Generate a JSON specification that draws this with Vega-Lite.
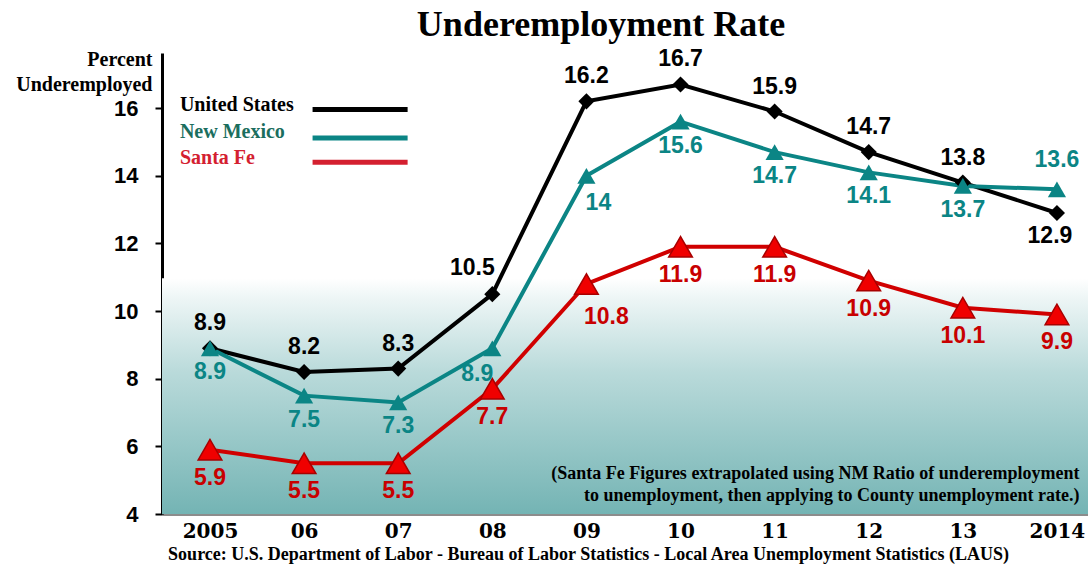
{
  "$schema": "https://vega.github.io/schema/vega-lite/v6.json",
  "width": 926,
  "height": 461,
  "padding": {"left": 162, "top": 53, "right": 0, "bottom": 53},
  "autosize": {"type": "none"},
  "background": "white",
  "title": {
    "text": "Underemployment Rate",
    "font": "Liberation Serif",
    "fontSize": 36,
    "fontWeight": "bold",
    "color": "#000000",
    "anchor": "middle",
    "baseline": "bottom",
    "offset": 0,
    "dx": -24,
    "dy": 32
  },
  "datasets": {
    "rates": [
      {"year": 2005, "series": "United States", "value": 8.9},
      {"year": 2006, "series": "United States", "value": 8.2},
      {"year": 2007, "series": "United States", "value": 8.3},
      {"year": 2008, "series": "United States", "value": 10.5},
      {"year": 2009, "series": "United States", "value": 16.2},
      {"year": 2010, "series": "United States", "value": 16.7},
      {"year": 2011, "series": "United States", "value": 15.9},
      {"year": 2012, "series": "United States", "value": 14.7},
      {"year": 2013, "series": "United States", "value": 13.8},
      {"year": 2014, "series": "United States", "value": 12.9},
      {"year": 2005, "series": "New Mexico", "value": 8.9},
      {"year": 2006, "series": "New Mexico", "value": 7.5},
      {"year": 2007, "series": "New Mexico", "value": 7.3},
      {"year": 2008, "series": "New Mexico", "value": 8.9},
      {"year": 2009, "series": "New Mexico", "value": 14},
      {"year": 2010, "series": "New Mexico", "value": 15.6},
      {"year": 2011, "series": "New Mexico", "value": 14.7},
      {"year": 2012, "series": "New Mexico", "value": 14.1},
      {"year": 2013, "series": "New Mexico", "value": 13.7},
      {"year": 2014, "series": "New Mexico", "value": 13.6},
      {"year": 2005, "series": "Santa Fe", "value": 5.9},
      {"year": 2006, "series": "Santa Fe", "value": 5.5},
      {"year": 2007, "series": "Santa Fe", "value": 5.5},
      {"year": 2008, "series": "Santa Fe", "value": 7.7},
      {"year": 2009, "series": "Santa Fe", "value": 10.8},
      {"year": 2010, "series": "Santa Fe", "value": 11.9},
      {"year": 2011, "series": "Santa Fe", "value": 11.9},
      {"year": 2012, "series": "Santa Fe", "value": 10.9},
      {"year": 2013, "series": "Santa Fe", "value": 10.1},
      {"year": 2014, "series": "Santa Fe", "value": 9.9}
    ],
    "legend": [
      {"series": "United States"},
      {"series": "New Mexico"},
      {"series": "Santa Fe"}
    ],
    "note": [
      {"note": "Santa Fe"}
    ]
  },
  "layer": [
    {
      "data": {"name": "note"},
      "mark": {
        "type": "rect",
        "fill": {
          "gradient": "linear",
          "x1": 0, "y1": 0, "x2": 0, "y2": 1,
          "stops": [
            {"offset": 0, "color": "#ffffff"},
            {"offset": 0.08, "color": "#eef6f6"},
            {"offset": 0.4, "color": "#b9dada"},
            {"offset": 1, "color": "#74b4b4"}
          ]
        }
      },
      "encoding": {
        "x": {"datum": 2004.49, "type": "quantitative"},
        "x2": {"datum": 2014.33},
        "y": {"datum": 10.97, "type": "quantitative"},
        "y2": {"datum": 4}
      }
    },
    {
      "data": {"name": "rates"},
      "mark": {"type": "line", "strokeWidth": 4},
      "encoding": {
        "x": {
          "field": "year",
          "type": "quantitative",
          "scale": {"domain": [2004.49, 2014.33], "nice": false, "zero": false},
          "axis": {
            "values": [2005, 2006, 2007, 2008, 2009, 2010, 2011, 2012, 2013, 2014],
            "format": "d",
            "labelExpr": "(datum.value == 2005 || datum.value == 2014) ? ('' + datum.value) : substring('' + datum.value, 2)",
            "ticks": false,
            "grid": false,
            "domainColor": "#8c8c8c",
            "domainWidth": 3,
            "labelFont": "DejaVu Serif",
            "labelFontWeight": "bold",
            "labelFontSize": 20,
            "labelColor": "#000000",
            "labelPadding": 7,
            "labelFlush": false,
            "labelOverlap": false,
            "title": "Source:  U.S. Department of Labor - Bureau of Labor Statistics - Local Area Unemployment Statistics (LAUS)",
            "titleFont": "Liberation Serif",
            "titleFontWeight": "bold",
            "titleFontSize": 18,
            "titleColor": "#000000",
            "titleX": 426,
            "titleAnchor": "middle",
            "titleAlign": "center",
            "titlePadding": 4
          }
        },
        "y": {
          "field": "value",
          "type": "quantitative",
          "scale": {"domain": [4, 17.63], "nice": false, "zero": false},
          "axis": {
            "values": [4, 6, 8, 10, 12, 14, 16],
            "grid": false,
            "domainColor": "#000000",
            "domainWidth": 3,
            "tickColor": "#000000",
            "tickWidth": 2,
            "tickSize": 7,
            "labelFont": "Liberation Sans",
            "labelFontWeight": "bold",
            "labelFontSize": 22,
            "labelColor": "#000000",
            "labelPadding": 17,
            "labelFlush": false,
            "title": ["Percent", "Underemployed"],
            "titleFont": "Liberation Serif",
            "titleFontWeight": "bold",
            "titleFontSize": 20,
            "titleColor": "#000000",
            "titleAngle": 0,
            "titleAlign": "right",
            "titleBaseline": "alphabetic",
            "titleLineHeight": 25,
            "titleX": -10,
            "titleY": 12
          }
        },
        "color": {
          "field": "series",
          "type": "nominal",
          "scale": {"domain": ["Santa Fe", "New Mexico", "United States"], "range": ["#d00000", "#0b8585", "#000000"]},
          "legend": null
        }
      }
    },
    {
      "data": {"name": "rates"},
      "transform": [{"filter": "datum.series == 'United States'"}],
      "mark": {"type": "point", "shape": "diamond", "filled": true, "size": 260, "fill": "#000000", "opacity": 1},
      "encoding": {"x": {"field": "year", "type": "quantitative"}, "y": {"field": "value", "type": "quantitative"}}
    },
    {
      "data": {"name": "rates"},
      "transform": [{"filter": "datum.series == 'New Mexico'"}],
      "mark": {"type": "point", "shape": "triangle-up", "filled": true, "size": 330, "fill": "#0b8585", "opacity": 1},
      "encoding": {"x": {"field": "year", "type": "quantitative"}, "y": {"field": "value", "type": "quantitative"}}
    },
    {
      "data": {"name": "rates"},
      "transform": [{"filter": "datum.series == 'Santa Fe'"}],
      "mark": {"type": "point", "shape": "triangle-up", "filled": true, "size": 560, "fill": "#f00000", "stroke": "#a80000", "strokeWidth": 1.5, "opacity": 1},
      "encoding": {"x": {"field": "year", "type": "quantitative"}, "y": {"field": "value", "type": "quantitative"}}
    },
    {
      "data": {"name": "rates"},
      "transform": [{"filter": "datum.series == 'United States' && datum.year != 2008 && datum.year != 2014"}],
      "mark": {"type": "text", "font": "Liberation Sans", "fontWeight": "bold", "fontSize": 23, "color": "#000000", "baseline": "middle", "dy": -25},
      "encoding": {"x": {"field": "year", "type": "quantitative"}, "y": {"field": "value", "type": "quantitative"}, "text": {"field": "value", "type": "quantitative", "format": ".1~f"}}
    },
    {
      "data": {"name": "rates"},
      "transform": [{"filter": "datum.series == 'United States' && datum.year == 2008"}],
      "mark": {"type": "text", "font": "Liberation Sans", "fontWeight": "bold", "fontSize": 23, "color": "#000000", "baseline": "middle", "dx": -20, "dy": -26},
      "encoding": {"x": {"field": "year", "type": "quantitative"}, "y": {"field": "value", "type": "quantitative"}, "text": {"field": "value", "type": "quantitative", "format": ".1~f"}}
    },
    {
      "data": {"name": "rates"},
      "transform": [{"filter": "datum.series == 'United States' && datum.year == 2014"}],
      "mark": {"type": "text", "font": "Liberation Sans", "fontWeight": "bold", "fontSize": 23, "color": "#000000", "baseline": "middle", "dx": -7, "dy": 23},
      "encoding": {"x": {"field": "year", "type": "quantitative"}, "y": {"field": "value", "type": "quantitative"}, "text": {"field": "value", "type": "quantitative", "format": ".1~f"}}
    },
    {
      "data": {"name": "rates"},
      "transform": [{"filter": "datum.series == 'New Mexico' && datum.year != 2008 && datum.year != 2009 && datum.year != 2014"}],
      "mark": {"type": "text", "font": "Liberation Sans", "fontWeight": "bold", "fontSize": 23, "color": "#0b8585", "baseline": "middle", "dy": 24},
      "encoding": {"x": {"field": "year", "type": "quantitative"}, "y": {"field": "value", "type": "quantitative"}, "text": {"field": "value", "type": "quantitative", "format": ".1~f"}}
    },
    {
      "data": {"name": "rates"},
      "transform": [{"filter": "datum.series == 'New Mexico' && datum.year == 2008"}],
      "mark": {"type": "text", "font": "Liberation Sans", "fontWeight": "bold", "fontSize": 23, "color": "#0b8585", "baseline": "middle", "dx": -15, "dy": 26},
      "encoding": {"x": {"field": "year", "type": "quantitative"}, "y": {"field": "value", "type": "quantitative"}, "text": {"field": "value", "type": "quantitative", "format": ".1~f"}}
    },
    {
      "data": {"name": "rates"},
      "transform": [{"filter": "datum.series == 'New Mexico' && datum.year == 2009"}],
      "mark": {"type": "text", "font": "Liberation Sans", "fontWeight": "bold", "fontSize": 23, "color": "#0b8585", "baseline": "middle", "dx": 12, "dy": 27},
      "encoding": {"x": {"field": "year", "type": "quantitative"}, "y": {"field": "value", "type": "quantitative"}, "text": {"field": "value", "type": "quantitative", "format": ".1~f"}}
    },
    {
      "data": {"name": "rates"},
      "transform": [{"filter": "datum.series == 'New Mexico' && datum.year == 2014"}],
      "mark": {"type": "text", "font": "Liberation Sans", "fontWeight": "bold", "fontSize": 23, "color": "#0b8585", "baseline": "middle", "dy": -29},
      "encoding": {"x": {"field": "year", "type": "quantitative"}, "y": {"field": "value", "type": "quantitative"}, "text": {"field": "value", "type": "quantitative", "format": ".1~f"}}
    },
    {
      "data": {"name": "rates"},
      "transform": [{"filter": "datum.series == 'Santa Fe' && datum.year != 2009"}],
      "mark": {"type": "text", "font": "Liberation Sans", "fontWeight": "bold", "fontSize": 23, "color": "#c80000", "baseline": "middle", "dy": 28},
      "encoding": {"x": {"field": "year", "type": "quantitative"}, "y": {"field": "value", "type": "quantitative"}, "text": {"field": "value", "type": "quantitative", "format": ".1~f"}}
    },
    {
      "data": {"name": "rates"},
      "transform": [{"filter": "datum.series == 'Santa Fe' && datum.year == 2009"}],
      "mark": {"type": "text", "font": "Liberation Sans", "fontWeight": "bold", "fontSize": 23, "color": "#c80000", "baseline": "middle", "dx": 20, "dy": 33},
      "encoding": {"x": {"field": "year", "type": "quantitative"}, "y": {"field": "value", "type": "quantitative"}, "text": {"field": "value", "type": "quantitative", "format": ".1~f"}}
    },
    {
      "data": {"name": "note"},
      "mark": {"type": "text", "text": ["(Santa Fe Figures extrapolated using NM Ratio of underemployment", "to unemployment, then applying to County unemployment rate.)"], "font": "Liberation Serif", "fontWeight": "bold", "fontSize": 18, "color": "#000000", "align": "right", "baseline": "middle", "lineHeight": 22},
      "encoding": {"x": {"datum": 2014.24, "type": "quantitative"}, "y": {"datum": 5.18, "type": "quantitative"}}
    },
    {
      "data": {"name": "legend"},
      "transform": [{"filter": "datum.series == 'United States'"}],
      "mark": {"type": "text", "font": "Liberation Serif", "fontWeight": "bold", "fontSize": 20, "color": "#000000", "align": "left", "baseline": "middle"},
      "encoding": {"x": {"datum": 2004.68, "type": "quantitative"}, "y": {"datum": 16.08, "type": "quantitative"}, "text": {"field": "series"}}
    },
    {
      "data": {"name": "legend"},
      "transform": [{"filter": "datum.series == 'New Mexico'"}],
      "mark": {"type": "text", "font": "Liberation Serif", "fontWeight": "bold", "fontSize": 20, "color": "#1b6e5e", "align": "left", "baseline": "middle"},
      "encoding": {"x": {"datum": 2004.68, "type": "quantitative"}, "y": {"datum": 15.28, "type": "quantitative"}, "text": {"field": "series"}}
    },
    {
      "data": {"name": "legend"},
      "transform": [{"filter": "datum.series == 'Santa Fe'"}],
      "mark": {"type": "text", "font": "Liberation Serif", "fontWeight": "bold", "fontSize": 20, "color": "#d42030", "align": "left", "baseline": "middle"},
      "encoding": {"x": {"datum": 2004.68, "type": "quantitative"}, "y": {"datum": 14.54, "type": "quantitative"}, "text": {"field": "series"}}
    },
    {
      "data": {"name": "legend"},
      "transform": [{"filter": "datum.series == 'United States'"}],
      "mark": {"type": "rule", "color": "#000000", "strokeWidth": 5},
      "encoding": {"x": {"datum": 2006.09, "type": "quantitative"}, "x2": {"datum": 2007.1}, "y": {"datum": 15.96, "type": "quantitative"}}
    },
    {
      "data": {"name": "legend"},
      "transform": [{"filter": "datum.series == 'New Mexico'"}],
      "mark": {"type": "rule", "color": "#0b8585", "strokeWidth": 5},
      "encoding": {"x": {"datum": 2006.09, "type": "quantitative"}, "x2": {"datum": 2007.1}, "y": {"datum": 15.12, "type": "quantitative"}}
    },
    {
      "data": {"name": "legend"},
      "transform": [{"filter": "datum.series == 'Santa Fe'"}],
      "mark": {"type": "rule", "color": "#d42030", "strokeWidth": 5},
      "encoding": {"x": {"datum": 2006.09, "type": "quantitative"}, "x2": {"datum": 2007.1}, "y": {"datum": 14.4, "type": "quantitative"}}
    }
  ],
  "config": {
    "view": {"stroke": null}
  }
}
